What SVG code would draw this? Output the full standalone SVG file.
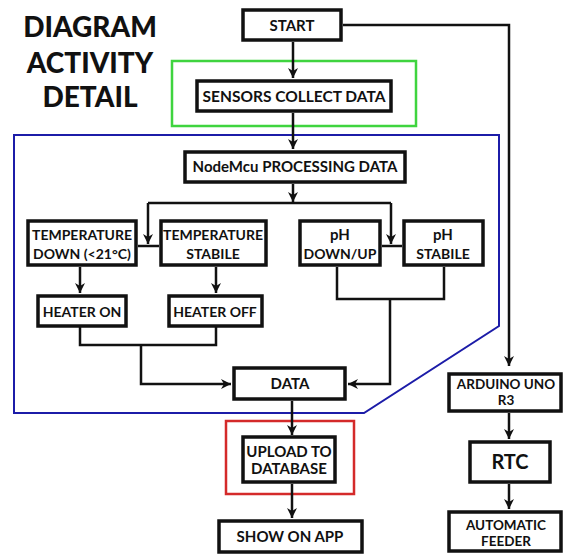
<svg xmlns="http://www.w3.org/2000/svg" width="565" height="554" viewBox="0 0 565 554">
<defs>
<marker id="arr" viewBox="0 0 10 10" refX="10" refY="5" markerWidth="10" markerHeight="10" markerUnits="userSpaceOnUse" orient="auto">
<path d="M0,0 L10,5 L0,10 L3,5 z" fill="#111"/>
</marker>
<style>
.box{fill:#fff;stroke:#111;stroke-width:3.5}
.t{font-family:Lato,"Liberation Sans",sans-serif;font-weight:bold;font-size:15px;fill:#111;text-anchor:middle}
.s14{font-size:14px}
.s13{font-size:13.5px}
.title{font-family:Lato,"Liberation Sans",sans-serif;font-weight:900;font-size:28px;fill:#111;text-anchor:middle}
.c{fill:none;stroke:#111;stroke-width:2.5}
.a{marker-end:url(#arr)}
</style>
</defs>
<rect width="565" height="554" fill="#fff"/>
<g id="title">
<text class="title" x="90" y="37">DIAGRAM</text>
<text class="title" x="90" y="73">ACTIVITY</text>
<text class="title" x="90" y="107">DETAIL</text>
</g>
<g id="frames" fill="none">
<rect x="172" y="61" width="244" height="65" stroke="#3fd43f" stroke-width="2.5"/>
<path d="M14,135 L499,135 L499,326 L364,413 L14,413 Z" stroke="#1c1ca8" stroke-width="2"/>
<rect x="226" y="421" width="128" height="73" stroke="#d42a2a" stroke-width="2.5"/>
</g>
<g id="connectors">
<path class="c a" d="M343,25 H509 V366"/>
<path class="c a" d="M293,42 V78"/>
<path class="c a" d="M293,113 V149"/>
<path class="c a" d="M293,184 V202"/>
<path class="c" d="M148,203 H391"/>
<path class="c a" d="M148,203 V244"/>
<path class="c a" d="M391,203 V244"/>
<path class="c" d="M138,246 H159"/>
<path class="c" d="M382,246 H402"/>
<path class="c a" d="M80,267 V293"/>
<path class="c a" d="M216,267 V293"/>
<path class="c" d="M80,327 V345 H216 V327"/>
<path class="c a" d="M141,345 V384 H231"/>
<path class="c" d="M337,267 V299 H444 V267"/>
<path class="c a" d="M390,299 V384 H348"/>
<path class="c a" d="M292,401 V435"/>
<path class="c a" d="M292,484 V518"/>
<path class="c a" d="M509,413 V439"/>
<path class="c a" d="M509,484 V509"/>
</g>
<g id="start"><rect class="box" x="243" y="10" width="98" height="30"/><text class="t" x="292" y="31">START</text></g>
<g id="sensors"><rect class="box" x="197" y="81" width="194" height="30"/><text class="t" x="294" y="102" style="font-size:15.5px">SENSORS COLLECT DATA</text></g>
<g id="nodemcu"><rect class="box" x="185" y="152" width="220" height="30"/><text class="t" x="295" y="172">NodeMcu PROCESSING DATA</text></g>
<g id="temp-down"><rect class="box" x="28" y="221" width="108" height="44"/><text class="t s14" x="82" y="240">TEMPERATURE</text><text class="t s14" x="82" y="259">DOWN (&lt;21°C)</text></g>
<g id="temp-stabile"><rect class="box" x="161" y="221" width="105" height="44"/><text class="t s14" x="213" y="240">TEMPERATURE</text><text class="t s14" x="213" y="259">STABILE</text></g>
<g id="ph-downup"><rect class="box" x="300" y="221" width="80" height="44"/><text class="t" x="340" y="240">pH</text><text class="t s14" x="340" y="259">DOWN/UP</text></g>
<g id="ph-stabile"><rect class="box" x="404" y="221" width="79" height="44"/><text class="t" x="443" y="240">pH</text><text class="t s14" x="443" y="259">STABILE</text></g>
<g id="heater-on"><rect class="box" x="38" y="296" width="88" height="30"/><text class="t s14" x="82" y="317">HEATER ON</text></g>
<g id="heater-off"><rect class="box" x="169" y="296" width="93" height="30"/><text class="t s14" x="215" y="317">HEATER OFF</text></g>
<g id="data"><rect class="box" x="234" y="368" width="111" height="31"/><text class="t" x="290" y="389">DATA</text></g>
<g id="upload"><rect class="box" x="243" y="437" width="92" height="45"/><text class="t" x="289" y="457">UPLOAD TO</text><text class="t" x="289" y="474">DATABASE</text></g>
<g id="show-app"><rect class="box" x="219" y="521" width="143" height="31"/><text class="t" x="290" y="542">SHOW ON APP</text></g>
<g id="arduino"><rect class="box" x="449" y="374" width="112" height="37"/><text class="t s13" x="506" y="389">ARDUINO UNO</text><text class="t s13" x="506" y="405">R3</text></g>
<g id="rtc"><rect class="box" x="470" y="442" width="80" height="40"/><text class="t" x="510" y="469" style="font-size:20px">RTC</text></g>
<g id="feeder"><rect class="box" x="449" y="512" width="112" height="39"/><text class="t s13" x="506" y="530">AUTOMATIC</text><text class="t s13" x="506" y="546">FEEDER</text></g>
</svg>
